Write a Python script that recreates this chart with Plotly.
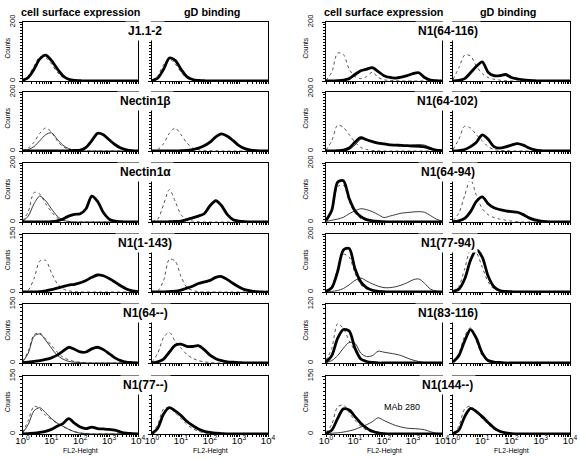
import plotly.graph_objects as go

# FL2 channel grid in decades (log10 of FL2-Height)
DECADES = [0.0, 0.2, 0.4, 0.6, 0.8, 1.0, 1.2, 1.4, 1.6, 1.8, 2.0,
           2.2, 2.4, 2.6, 2.8, 3.0, 3.2, 3.4, 3.6, 3.8, 4.0]

X_TICK_VALUES = [1, 10, 100, 1000, 10000]
X_TICK_LABELS = ["10<sup>0</sup>", "10<sup>1</sup>", "10<sup>2</sup>",
                 "10<sup>3</sup>", "10<sup>4</sup>"]

COLUMN_HEADERS = ["cell surface expression", "gD binding"]

LEFT_TITLES = ["J1.1-2", "Nectin1β", "Nectin1α", "N1(1-143)", "N1(64--)", "N1(77--)"]
RIGHT_TITLES = ["N1(64-116)", "N1(64-102)", "N1(64-94)", "N1(77-94)", "N1(83-116)", "N1(144--)"]
LEFT_YMAX = [200, 200, 200, 150, 150, 150]
RIGHT_YMAX = [200, 200, 200, 200, 120, 150]

# ---- Left group, cell surface (cse) and gD binding (gd) ----
J112_CSE_THICK = [2, 12, 40, 75, 88, 70, 42, 18, 6, 2, 1, 0, 0, 0, 0, 0, 0, 0, 0, 0, 0]
J112_CSE_DOT = [3, 18, 50, 82, 80, 58, 30, 12, 4, 1, 0, 0, 0, 0, 0, 0, 0, 0, 0, 0, 0]
J112_GD_THICK = [1, 10, 40, 78, 70, 40, 15, 5, 2, 1, 0, 0, 0, 0, 0, 0, 0, 0, 0, 0, 0]
J112_GD_DOT = [2, 18, 55, 75, 58, 30, 10, 3, 1, 0, 0, 0, 0, 0, 0, 0, 0, 0, 0, 0, 0]

NB_CSE_THICK = [0, 0, 0, 0, 0, 0, 0, 0, 1, 2, 3, 12, 35, 60, 55, 38, 22, 10, 4, 1, 0]
NB_CSE_THIN = [1, 5, 15, 35, 55, 62, 40, 20, 8, 3, 1, 0, 0, 0, 0, 0, 0, 0, 0, 0, 0]
NB_CSE_DOT = [2, 10, 30, 60, 78, 65, 35, 15, 5, 2, 1, 0, 0, 0, 0, 0, 0, 0, 0, 0, 0]
NB_GD_THICK = [0, 0, 0, 0, 0, 1, 2, 5, 10, 18, 30, 48, 58, 50, 35, 18, 8, 3, 1, 0, 0]
NB_GD_DOT = [1, 5, 25, 60, 78, 55, 28, 10, 4, 2, 1, 1, 0, 0, 0, 0, 0, 0, 0, 0, 0]

NA_CSE_THICK = [0, 0, 0, 0, 0, 1, 4, 10, 20, 26, 28, 45, 88, 70, 32, 10, 3, 1, 0, 0, 0]
NA_CSE_THIN = [2, 20, 62, 88, 72, 45, 20, 6, 2, 0, 0, 0, 0, 0, 0, 0, 0, 0, 0, 0, 0]
NA_CSE_DOT = [3, 35, 100, 95, 62, 35, 14, 5, 2, 0, 0, 0, 0, 0, 0, 0, 0, 0, 0, 0, 0]
NA_GD_THICK = [0, 0, 0, 1, 2, 3, 8, 14, 20, 28, 55, 72, 55, 25, 8, 3, 1, 0, 0, 0, 0]
NA_GD_DOT = [1, 10, 60, 110, 70, 25, 8, 3, 1, 0, 0, 0, 0, 0, 0, 0, 0, 0, 0, 0, 0]

N1143_CSE_THICK = [0, 0, 0, 1, 3, 6, 10, 14, 18, 20, 24, 30, 38, 44, 42, 35, 26, 16, 8, 3, 1]
N1143_CSE_DOT = [0, 5, 35, 80, 82, 50, 22, 8, 3, 1, 0, 0, 0, 0, 0, 0, 0, 0, 0, 0, 0]
N1143_GD_THICK = [0, 0, 0, 1, 2, 5, 10, 15, 22, 26, 30, 38, 40, 32, 22, 13, 6, 3, 1, 0, 0]
N1143_GD_DOT = [0, 3, 30, 85, 80, 40, 12, 4, 1, 0, 0, 0, 0, 0, 0, 0, 0, 0, 0, 0, 0]

N164_CSE_THICK = [1, 2, 4, 6, 9, 13, 20, 30, 40, 35, 28, 28, 36, 40, 34, 24, 13, 6, 2, 1, 0]
N164_CSE_THIN = [2, 25, 68, 74, 58, 38, 20, 10, 4, 2, 1, 0, 0, 0, 0, 0, 0, 0, 0, 0, 0]
N164_CSE_DOT = [3, 30, 72, 76, 62, 45, 28, 15, 8, 4, 2, 1, 0, 0, 0, 0, 0, 0, 0, 0, 0]
N164_GD_THICK = [0, 3, 10, 28, 45, 48, 42, 42, 44, 34, 20, 11, 6, 3, 2, 1, 0, 0, 0, 0, 0]
N164_GD_DOT = [2, 25, 65, 78, 55, 38, 22, 12, 6, 3, 1, 0, 0, 0, 0, 0, 0, 0, 0, 0, 0]

N177_CSE_THICK = [0, 1, 2, 4, 7, 12, 20, 27, 40, 28, 18, 14, 18, 14, 13, 12, 10, 5, 2, 1, 0]
N177_CSE_THIN = [2, 25, 60, 68, 55, 40, 28, 20, 12, 6, 2, 1, 0, 0, 0, 0, 0, 0, 0, 0, 0]
N177_CSE_DOT = [3, 35, 72, 65, 48, 38, 28, 20, 12, 6, 3, 1, 0, 0, 0, 0, 0, 0, 0, 0, 0]
N177_GD_THICK = [1, 15, 52, 68, 60, 48, 33, 22, 13, 7, 4, 2, 1, 0, 0, 0, 0, 0, 0, 0, 0]
N177_GD_DOT = [2, 25, 65, 68, 55, 40, 25, 14, 7, 3, 1, 0, 0, 0, 0, 0, 0, 0, 0, 0, 0]

# ---- Right group ----
R64116_CSE_THICK = [0, 0, 1, 3, 8, 22, 35, 40, 45, 32, 18, 12, 10, 13, 18, 25, 28, 12, 3, 1, 0]
R64116_CSE_DOT = [2, 30, 95, 90, 40, 15, 8, 15, 30, 12, 4, 2, 1, 0, 0, 0, 0, 0, 0, 0, 0]
R64116_GD_THICK = [0, 2, 8, 28, 50, 65, 30, 18, 18, 22, 12, 7, 4, 2, 1, 0, 0, 0, 0, 0, 0]
R64116_GD_DOT = [5, 45, 88, 85, 50, 25, 12, 6, 3, 1, 0, 0, 0, 0, 0, 0, 0, 0, 0, 0, 0]

R64102_CSE_THICK = [0, 0, 1, 3, 10, 30, 45, 38, 32, 27, 24, 21, 20, 19, 18, 17, 16, 14, 8, 3, 1]
R64102_CSE_THIN = [0, 0, 0, 1, 5, 20, 40, 40, 33, 28, 24, 20, 19, 18, 18, 20, 22, 20, 12, 5, 2]
R64102_CSE_DOT = [3, 35, 88, 80, 55, 30, 12, 5, 2, 1, 0, 0, 0, 0, 0, 0, 0, 0, 0, 0, 0]
R64102_GD_THICK = [0, 1, 5, 15, 30, 55, 40, 15, 10, 14, 20, 25, 20, 10, 4, 1, 0, 0, 0, 0, 0]
R64102_GD_DOT = [5, 40, 84, 78, 55, 35, 15, 5, 2, 1, 0, 0, 0, 0, 0, 0, 0, 0, 0, 0, 0]

R6494_CSE_THICK = [5, 40, 135, 140, 80, 38, 18, 8, 4, 2, 1, 0, 0, 0, 0, 0, 0, 0, 0, 0, 0]
R6494_CSE_THIN = [2, 6, 10, 16, 28, 38, 45, 42, 35, 25, 15, 20, 25, 30, 32, 34, 35, 33, 22, 10, 3]
R6494_CSE_DOT = [5, 40, 120, 125, 70, 30, 12, 5, 2, 1, 0, 0, 0, 0, 0, 0, 0, 0, 0, 0, 0]
R6494_GD_THICK = [1, 4, 12, 35, 70, 85, 62, 48, 42, 38, 35, 33, 25, 14, 7, 3, 1, 0, 0, 0, 0]
R6494_GD_DOT = [5, 30, 90, 145, 90, 45, 25, 15, 10, 6, 3, 1, 0, 0, 0, 0, 0, 0, 0, 0, 0]

R7794_CSE_THICK = [2, 15, 70, 145, 150, 80, 35, 15, 6, 2, 1, 0, 0, 0, 0, 0, 0, 0, 0, 0, 0]
R7794_CSE_THIN = [0, 2, 5, 12, 25, 40, 48, 38, 28, 20, 15, 15, 18, 24, 32, 42, 45, 30, 10, 3, 1]
R7794_CSE_DOT = [2, 20, 80, 130, 120, 65, 25, 10, 4, 1, 0, 0, 0, 0, 0, 0, 0, 0, 0, 0, 0]
R7794_GD_THICK = [2, 10, 45, 110, 145, 120, 55, 18, 5, 2, 1, 0, 0, 0, 0, 0, 0, 0, 0, 0, 0]
R7794_GD_DOT = [3, 20, 80, 145, 135, 85, 35, 10, 3, 1, 0, 0, 0, 0, 0, 0, 0, 0, 0, 0, 0]

R83116_CSE_THICK = [2, 15, 50, 68, 65, 30, 8, 3, 1, 0, 0, 0, 0, 0, 0, 0, 0, 0, 0, 0, 0]
R83116_CSE_THIN = [1, 5, 15, 30, 42, 40, 20, 13, 15, 24, 22, 20, 18, 15, 10, 6, 3, 1, 0, 0, 0]
R83116_CSE_DOT = [5, 30, 80, 70, 45, 25, 10, 4, 2, 1, 0, 0, 0, 0, 0, 0, 0, 0, 0, 0, 0]
R83116_GD_THICK = [2, 15, 45, 68, 50, 20, 5, 2, 1, 0, 0, 0, 0, 0, 0, 0, 0, 0, 0, 0, 0]
R83116_GD_DOT = [3, 20, 55, 72, 45, 15, 4, 1, 0, 0, 0, 0, 0, 0, 0, 0, 0, 0, 0, 0, 0]

R144_CSE_THICK = [2, 10, 40, 65, 62, 45, 28, 15, 7, 3, 1, 0, 0, 0, 0, 0, 0, 0, 0, 0, 0]
R144_CSE_THIN = [1, 2, 3, 5, 8, 12, 18, 24, 32, 42, 35, 28, 22, 18, 15, 14, 13, 11, 6, 2, 1]
R144_CSE_DOT = [3, 25, 70, 75, 55, 35, 20, 10, 4, 2, 1, 0, 0, 0, 0, 0, 0, 0, 0, 0, 0]
R144_GD_THICK = [1, 10, 45, 66, 58, 45, 30, 16, 7, 3, 1, 0, 0, 0, 0, 0, 0, 0, 0, 0, 0]
R144_GD_DOT = [2, 20, 65, 72, 55, 40, 25, 12, 5, 2, 1, 0, 0, 0, 0, 0, 0, 0, 0, 0, 0]

# panel table: (column index, row index, curves as (values, style))
PANELS = [
    (0, 0, [(J112_CSE_DOT, "dot"), (J112_CSE_THICK, "thick")]),
    (1, 0, [(J112_GD_DOT, "dot"), (J112_GD_THICK, "thick")]),
    (0, 1, [(NB_CSE_DOT, "dot"), (NB_CSE_THIN, "thin"), (NB_CSE_THICK, "thick")]),
    (1, 1, [(NB_GD_DOT, "dot"), (NB_GD_THICK, "thick")]),
    (0, 2, [(NA_CSE_DOT, "dot"), (NA_CSE_THIN, "thin"), (NA_CSE_THICK, "thick")]),
    (1, 2, [(NA_GD_DOT, "dot"), (NA_GD_THICK, "thick")]),
    (0, 3, [(N1143_CSE_DOT, "dot"), (N1143_CSE_THICK, "thick")]),
    (1, 3, [(N1143_GD_DOT, "dot"), (N1143_GD_THICK, "thick")]),
    (0, 4, [(N164_CSE_DOT, "dot"), (N164_CSE_THIN, "thin"), (N164_CSE_THICK, "thick")]),
    (1, 4, [(N164_GD_DOT, "dot"), (N164_GD_THICK, "thick")]),
    (0, 5, [(N177_CSE_DOT, "dot"), (N177_CSE_THIN, "thin"), (N177_CSE_THICK, "thick")]),
    (1, 5, [(N177_GD_DOT, "dot"), (N177_GD_THICK, "thick")]),
    (2, 0, [(R64116_CSE_DOT, "dot"), (R64116_CSE_THICK, "thick")]),
    (3, 0, [(R64116_GD_DOT, "dot"), (R64116_GD_THICK, "thick")]),
    (2, 1, [(R64102_CSE_DOT, "dot"), (R64102_CSE_THIN, "thin"), (R64102_CSE_THICK, "thick")]),
    (3, 1, [(R64102_GD_DOT, "dot"), (R64102_GD_THICK, "thick")]),
    (2, 2, [(R6494_CSE_DOT, "dot"), (R6494_CSE_THIN, "thin"), (R6494_CSE_THICK, "thick")]),
    (3, 2, [(R6494_GD_DOT, "dot"), (R6494_GD_THICK, "thick")]),
    (2, 3, [(R7794_CSE_DOT, "dot"), (R7794_CSE_THIN, "thin"), (R7794_CSE_THICK, "thick")]),
    (3, 3, [(R7794_GD_DOT, "dot"), (R7794_GD_THICK, "thick")]),
    (2, 4, [(R83116_CSE_DOT, "dot"), (R83116_CSE_THIN, "thin"), (R83116_CSE_THICK, "thick")]),
    (3, 4, [(R83116_GD_DOT, "dot"), (R83116_GD_THICK, "thick")]),
    (2, 5, [(R144_CSE_DOT, "dot"), (R144_CSE_THIN, "thin"), (R144_CSE_THICK, "thick")]),
    (3, 5, [(R144_GD_DOT, "dot"), (R144_GD_THICK, "thick")]),
]

# ---------------- layout geometry (pixels) ----------------
W, H = 580, 460
COL_PX = [(22.5, 138), (152, 268), (326, 442), (453, 570)]
ROW_PX = [(22, 81), (92, 151), (163, 222), (234, 292), (304, 363), (376, 434)]
FONT = "Liberation Sans, Arial, sans-serif"

STYLES = {
    "thick": dict(color="black", width=2.8),
    "thin": dict(color="#222222", width=0.9),
    "dot": dict(color="#555555", width=1, dash="dot"),
}

MINOR_X = [m * 10 ** e for e in range(4) for m in range(2, 10)]


def px_x(p):
    return p / W


def px_y(p):
    return 1 - p / H


fig = go.Figure()
layout = dict(
    width=W, height=H, margin=dict(l=0, r=0, t=0, b=0, pad=0, autoexpand=False),
    paper_bgcolor="white", plot_bgcolor="white", showlegend=False,
    font=dict(family=FONT, color="black"),
)

fl2 = [10 ** d for d in DECADES]

for k, (col, row, curves) in enumerate(PANELS, start=1):
    x0, x1 = COL_PX[col]
    y0, y1 = ROW_PX[row]
    ymax = (LEFT_YMAX if col < 2 else RIGHT_YMAX)[row]
    xa = "xaxis" if k == 1 else f"xaxis{k}"
    ya = "yaxis" if k == 1 else f"yaxis{k}"
    layout[xa] = dict(
        domain=[px_x(x0), px_x(x1)], type="log", range=[0, 4], anchor=f"y{k}",
        automargin=False,
        showline=True, mirror=True, linecolor="black", linewidth=1,
        ticks="outside", ticklen=2, tickwidth=1, tickcolor="black",
        tickvals=X_TICK_VALUES, ticktext=X_TICK_LABELS,
        showticklabels=(row == 5), tickfont=dict(size=9.5, family=FONT, color="black"),
        ticklabelstandoff=-4,
        minor=dict(tickmode="array", tickvals=MINOR_X, ticks="outside",
                   ticklen=2, tickcolor="black", tickwidth=1),
        showgrid=False, zeroline=False, fixedrange=True,
    )
    layout[ya] = dict(
        domain=[px_y(y1), px_y(y0)], range=[0, ymax], anchor=f"x{k}",
        automargin=False,
        showline=True, mirror=True, linecolor="black", linewidth=1,
        ticks="outside", ticklen=3, tickwidth=1, tickcolor="black",
        tickvals=[0, ymax], ticktext=["0", str(ymax)], tickangle=-90,
        showticklabels=(col in (0, 2)), tickfont=dict(size=7.5, family=FONT, color="black"),
        ticklabelstandoff=(1 if col == 0 else 6),
        minor=dict(tickmode="linear", tick0=0, dtick=10, ticks="outside",
                   ticklen=2, tickcolor="black", tickwidth=1),
        showgrid=False, zeroline=False, fixedrange=True,
    )
    for values, style in curves:
        fig.add_trace(go.Scatter(
            x=fl2, y=values, mode="lines", xaxis=f"x{k}", yaxis=f"y{k}",
            line=dict(shape="spline", smoothing=0.8, **STYLES[style]),
            hoverinfo="skip",
        ))

annotations = []
# column headers
HEADER_CX = [80, 212, 383, 508]
for col in range(4):
    annotations.append(dict(
        x=px_x(HEADER_CX[col]), y=px_y(12), xref="paper", yref="paper",
        text=f"<b>{COLUMN_HEADERS[col % 2]}</b>", showarrow=False,
        font=dict(size=10.8, family=FONT, color="black"), xanchor="center", yanchor="middle",
    ))
# panel titles straddling column gap
for group, titles in ((0, LEFT_TITLES), (1, RIGHT_TITLES)):
    gap_c = (COL_PX[2 * group][1] + COL_PX[2 * group + 1][0]) / 2
    for row, title in enumerate(titles):
        annotations.append(dict(
            x=px_x(gap_c), y=px_y(ROW_PX[row][0] + 9), xref="paper", yref="paper",
            text=f"<b>{title}</b>", showarrow=False, bgcolor="white", borderpad=2,
            font=dict(size=12, family=FONT, color="black"), xanchor="center", yanchor="middle",
        ))
# "Counts" labels
for col, lx in ((0, 7), (2, 305)):
    for row in range(6):
        y0, y1 = ROW_PX[row]
        annotations.append(dict(
            x=px_x(lx), y=px_y((y0 + y1) / 2 - 3), xref="paper", yref="paper",
            text="Counts", showarrow=False, textangle=-90,
            font=dict(size=6.5, family=FONT, color="black"), xanchor="center", yanchor="middle",
        ))
# FL2-Height labels
for col in range(4):
    x0, x1 = COL_PX[col]
    annotations.append(dict(
        x=px_x((x0 + x1) / 2), y=px_y(451), xref="paper", yref="paper",
        text="FL2-Height", showarrow=False,
        font=dict(size=7, family=FONT, color="black"), xanchor="center", yanchor="middle",
    ))
annotations.append(dict(
    x=px_x(402), y=px_y(407), xref="paper", yref="paper", text="MAb 280",
    showarrow=False, font=dict(size=9, family=FONT, color="black"),
    xanchor="center", yanchor="middle",
))
layout["annotations"] = annotations
fig.update_layout(**layout)
fig.write_html(
    "out.html",
    config={"displayModeBar": False, "staticPlot": True},
    post_script="document.body.style.margin='0';document.body.style.overflow='hidden';",
)
